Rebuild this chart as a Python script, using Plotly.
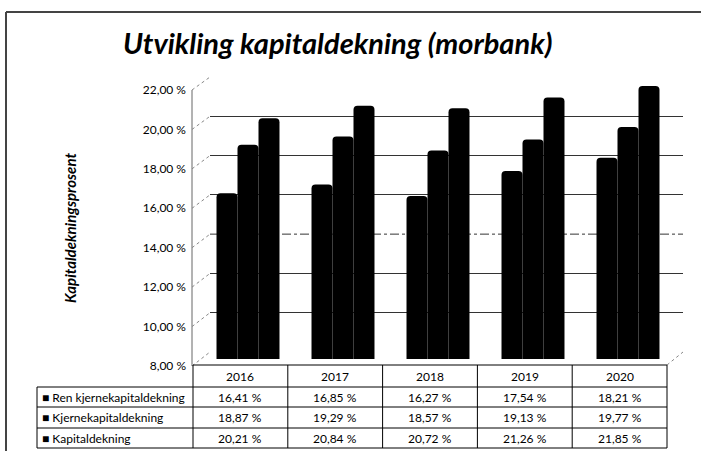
import plotly.graph_objects as go

# ---- data ----
years = ["2016", "2017", "2018", "2019", "2020"]
series_names = ["Ren kjernekapitaldekning", "Kjernekapitaldekning", "Kapitaldekning"]
ren_kjerne = [16.41, 16.85, 16.27, 17.54, 18.21]
kjerne = [18.87, 19.29, 18.57, 19.13, 19.77]
kapital = [20.21, 20.84, 20.72, 21.26, 21.85]
y_ticks = [8, 10, 12, 14, 16, 18, 20, 22]
y_range = [8, 22]
title_text = "Utvikling kapitaldekning (morbank)"
y_title_text = "Kapitaldekningsprosent"

W, H = 701, 451
def px(x):
    return x / W
def py(y):
    return 1 - y / H

def fmt(v):
    return f"{v:.2f}".replace(".", ",") + " %"

FONT = "Lato"
series = [ren_kjerne, kjerne, kapital]

fig = go.Figure()
# back wall (grid) subplot - needs a trace to exist
fig.add_trace(go.Scatter(x=[None], y=[None], xaxis="x", yaxis="y",
                         showlegend=False, hoverinfo="skip"))
for name, vals in zip(series_names, series):
    fig.add_trace(go.Bar(x=years, y=vals, name=name, xaxis="x2", yaxis="y2",
                         marker=dict(color="black", line=dict(width=0), cornerradius=4),
                         showlegend=False))

shapes = []
# dash-dot gridline at 14 on the back wall
shapes.append(dict(type="line", xref="x domain", yref="y", x0=0, x1=1, y0=14, y1=14,
                   line=dict(color="#333", width=1, dash="dashdot"), layer="below"))

# side wall / floor decoration derived from tick values
def front_y(v):
    return 366 - (v - y_range[0]) * (276 / (y_range[1] - y_range[0]))
def back_y(v):
    return 352 - (v - y_range[0]) * (275 / (y_range[1] - y_range[0]))

shapes.append(dict(type="line", xref="paper", yref="paper", x0=px(192), x1=px(192),
                   y0=py(front_y(y_range[1])), y1=py(front_y(y_range[0])),
                   line=dict(color="#666", width=1), layer="below"))
for v in y_ticks:
    shapes.append(dict(type="line", xref="paper", yref="paper", x0=px(192), x1=px(210),
                       y0=py(front_y(v)), y1=py(back_y(v)),
                       line=dict(color="#888", width=1, dash="dot"), layer="below"))
shapes.append(dict(type="line", xref="paper", yref="paper", x0=px(667), x1=px(683),
                   y0=py(365), y1=py(352), line=dict(color="#888", width=1, dash="dot"),
                   layer="below"))

# outer border
shapes.append(dict(type="line", xref="paper", yref="paper", x0=px(6), x1=px(6),
                   y0=py(12), y1=0, line=dict(color="#444", width=2)))
shapes.append(dict(type="line", xref="paper", yref="paper", x0=px(6), x1=1,
                   y0=py(12), y1=py(12), line=dict(color="#444", width=2)))

# data table grid
tab_left, lab_left, col_w = 193, 37, (667 - 193) / len(years)
tab_right = tab_left + col_w * len(years)
row_lines = [365, 387, 407, 428, 448]
line_style = dict(color="black", width=1)
shapes.append(dict(type="line", xref="paper", yref="paper", x0=px(tab_left), x1=px(tab_right),
                   y0=py(row_lines[0]), y1=py(row_lines[0]), line=line_style))
for r in row_lines[1:]:
    shapes.append(dict(type="line", xref="paper", yref="paper", x0=px(lab_left), x1=px(tab_right),
                       y0=py(r), y1=py(r), line=line_style))
shapes.append(dict(type="line", xref="paper", yref="paper", x0=px(lab_left), x1=px(lab_left),
                   y0=py(row_lines[1]), y1=py(row_lines[-1]), line=line_style))
for i in range(len(years) + 1):
    xx = tab_left + i * col_w
    shapes.append(dict(type="line", xref="paper", yref="paper", x0=px(xx), x1=px(xx),
                       y0=py(row_lines[0]), y1=py(row_lines[-1]), line=line_style))

annotations = []
annotations.append(dict(text=title_text, xref="paper", yref="paper", x=px(337), y=py(42),
                        showarrow=False, xanchor="center", yanchor="middle",
                        font=dict(family=FONT, size=29, color="black", weight="bold", style="italic")))
annotations.append(dict(text=y_title_text, xref="paper", yref="paper", x=px(70), y=py(228),
                        showarrow=False, textangle=-90, xanchor="center", yanchor="middle",
                        font=dict(family=FONT, size=15, color="black", weight="bold", style="italic")))
col_centers = [px(tab_left + (i + 0.5) * col_w) for i in range(len(years))]
for yr, xc in zip(years, col_centers):
    annotations.append(dict(text=yr, xref="paper", yref="paper", x=xc,
                            y=py((row_lines[0] + row_lines[1]) / 2), showarrow=False,
                            xanchor="center", yanchor="middle",
                            font=dict(family=FONT, size=12, color="black")))
for ri, (name, vals) in enumerate(zip(series_names, series)):
    yc = py((row_lines[ri + 1] + row_lines[ri + 2]) / 2)
    annotations.append(dict(text="■ " + name, xref="paper", yref="paper", x=px(40), y=yc,
                            xanchor="left", yanchor="middle", showarrow=False,
                            font=dict(family=FONT, size=12, color="black")))
    for xc, v in zip(col_centers, vals):
        annotations.append(dict(text=fmt(v), xref="paper", yref="paper", x=xc, y=yc,
                                showarrow=False, xanchor="center", yanchor="middle",
                                font=dict(family=FONT, size=12, color="black")))

fig.update_layout(
    template="none",
    width=W, height=H,
    margin=dict(l=0, r=0, t=0, b=0, pad=0, autoexpand=False),
    paper_bgcolor="white", plot_bgcolor="rgba(0,0,0,0)",
    barmode="group", bargap=0.337, bargroupgap=0,
    showlegend=False,
    xaxis=dict(domain=[px(210), px(683)], range=[0, 1], visible=False, anchor="y",
               automargin=False),
    yaxis=dict(domain=[py(352), py(77)], range=y_range, anchor="x", automargin=False,
               tickvals=[t for t in y_ticks if t != 14], showticklabels=False,
               showgrid=True, gridcolor="#333", gridwidth=1, zeroline=False, showline=False,
               ticks=""),
    xaxis2=dict(domain=[px(200.5), px(675.5)], range=[-0.5, 4.5], type="category",
                visible=False, anchor="y2", automargin=False),
    yaxis2=dict(domain=[py(359), py(83)], range=y_range, anchor="free", position=px(192),
                automargin=False,
                tickvals=y_ticks, ticktext=[fmt(t) for t in y_ticks],
                ticklabelshift=7, ticklabelstandoff=6,
                showgrid=False, zeroline=False, showline=False, ticks="",
                tickfont=dict(family=FONT, size=12, color="black")),
    shapes=shapes,
    annotations=annotations,
)

fig.write_html("out.html", config={"displayModeBar": False},
               post_script="document.body.style.margin='0px';document.body.style.overflow='hidden';")
